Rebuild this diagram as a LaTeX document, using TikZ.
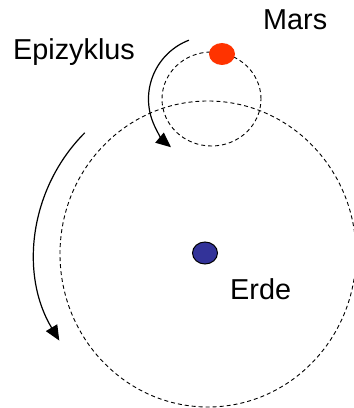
\documentclass[tikz,border=0pt]{standalone}
\usepackage{fontspec}
\setmainfont{Liberation Sans}
\usetikzlibrary{arrows.meta, shapes.geometric}
\definecolor{marsred}{RGB}{255, 51, 0}
\definecolor{erdeblue}{RGB}{51, 51, 153}

\begin{document}
\begin{tikzpicture}[x=1pt, y=1pt,
    orbit/.style={dash pattern=on 4pt off 3pt, line width=0.9pt},
    motion/.style={-{Triangle[length=15pt, width=13pt]}, line width=1.2pt},
    planet/.style={ellipse, draw, inner sep=0pt, minimum width=25pt, minimum height=22pt},
    label/.style={font=\fontsize{28.8}{34}\selectfont, anchor=base west, inner sep=0pt}]
    \useasboundingbox (0,0) rectangle (354,408);
    % Deferent und Epizyklus
    \coordinate (center) at (208, 154);
    \coordinate (epi) at (211.5, 309);
    \draw[orbit] (center) ellipse [x radius=148, y radius=153];
    \draw[orbit] (epi) ellipse [x radius=49.5, y radius=47];
    \node[planet, fill=erdeblue, line width=1pt] (erde) at (205, 155) {};
    \node[planet, fill=marsred, draw=none, minimum width=26pt] (mars) at (222, 354) {};
    \node[label] (erdelabel) at (230, 108) {Erde};
    \node[label] (marslabel) at (263, 378) {Mars};
    \node[label] (epilabel) at (13, 348) {Epizyklus};
    % Bewegungsrichtungen
    \draw[motion] ([shift={(111:63)}]epi) arc [start angle=111, end angle=230, radius=63];
    \draw[motion] ([shift={(135:170)}]erde.center) arc [start angle=135, end angle=211, radius=170];
\end{tikzpicture}
\end{document}
